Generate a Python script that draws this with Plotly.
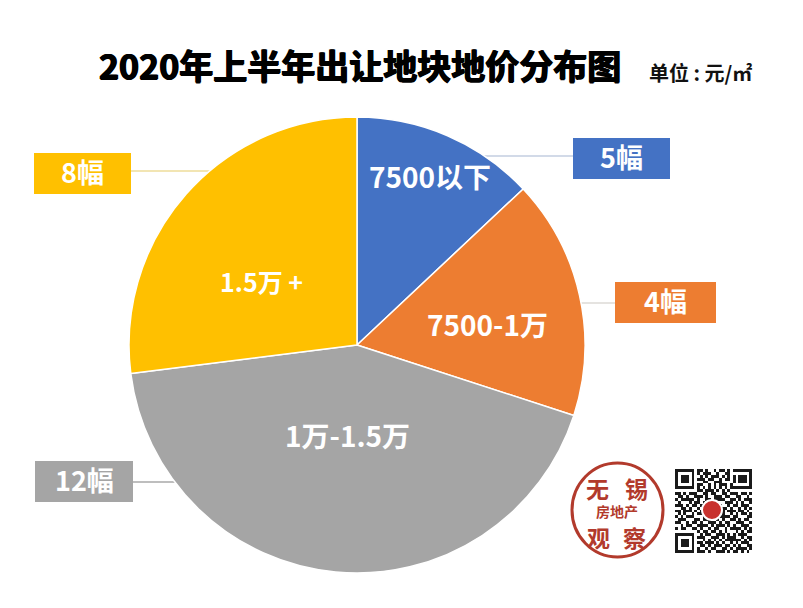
import plotly.graph_objects as go

W, H = 803, 608
FONT = "Noto Sans CJK SC"

# shares measured from the slice angles in the picture
ranges = ["7500以下", "7500-1万", "1万-1.5万", "1.5万+"]
shares = [13, 17, 43, 27]
counts = ["5幅", "4幅", "12幅", "8幅"]
colors = ["#4472C4", "#ED7D31", "#A5A5A5", "#FFC000"]
line_colors = ["#C3CEE0", "#DDDAD6", "#A9A9A9", "#EEDC9A"]

qr_rows = [
    "1111111011010010110101111111",
    "1000001010111001001100000001",
    "1011101001010111010101011101",
    "1011101011101100101101011101",
    "1011101000110011100001011101",
    "1000001011001010111010000001",
    "1111111010101010101011111111",
    "0000000011011101010100000000",
    "1101011100110110011011101101",
    "0110100111010011101100110010",
    "1011111010011011110011010111",
    "0100010110101110001110101001",
    "1110101101100001100101101110",
    "0011010010100000011010010101",
    "1101110101100000010111011010",
    "0101001011100000010010101101",
    "1010111000100000111101100011",
    "0111000110111001010011010110",
    "1100101101001110101100111001",
    "0010110011110101110101001110",
    "1011001101001011001011110101",
    "0000000010110110101000101011",
    "1111111001011001110101011100",
    "1000001011100111010111001011",
    "1011101000101010101111110101",
    "1011101011011101010010101110",
    "1011101001101011101101010011",
    "1000001010010110011010111101",
    "1111111011101001110101101010",
]
qr_z = [[1 - int(c) for c in row] for row in qr_rows]


def px(x):
    return x / W


def py(y):
    return 1 - y / H


fig = go.Figure()
fig.add_trace(go.Pie(
    values=shares, labels=ranges, sort=False, direction="clockwise", rotation=0,
    marker=dict(colors=colors, line=dict(color="white", width=1.5)),
    textinfo="none", hoverinfo="label", showlegend=False,
    domain=dict(x=[px(129), px(585)], y=[py(573), py(117)]),
))
fig.add_trace(go.Heatmap(
    z=qr_z, colorscale=[[0, "#1a1a1a"], [1, "#ffffff"]], showscale=False, hoverinfo="skip",
    xaxis="x", yaxis="y",
))

shapes = []
annotations = []


def text(x, y, s, size, color="white", shadow=None):
    font = dict(family=FONT, size=size, color=color)
    if shadow:
        font["shadow"] = shadow
    annotations.append(dict(
        x=px(x), y=py(y), xref="paper", yref="paper", text=f"<b>{s}</b>",
        showarrow=False, xanchor="center", yanchor="middle", font=font,
    ))


# count boxes and their leader lines
boxes = [(573, 138, 670, 179), (615, 282, 716, 323), (35, 461, 133, 502), (34, 153, 131, 194)]
leaders = [(480, 156, 573, 156), (570, 303, 615, 303), (133, 482, 185, 482), (131, 171, 210, 171)]
for i, (x0, y0, x1, y1) in enumerate(leaders):
    shapes.append(dict(type="line", xref="paper", yref="paper", x0=px(x0), y0=py(y0), x1=px(x1), y1=py(y1),
                       line=dict(color=line_colors[i], width=1.5), layer="below"))
for i, (x0, y0, x1, y1) in enumerate(boxes):
    shapes.append(dict(type="rect", xref="paper", yref="paper", x0=px(x0), y0=py(y0), x1=px(x1), y1=py(y1),
                       fillcolor=colors[i], line=dict(width=0)))
    text((x0 + x1) / 2, (y0 + y1) / 2 - 2, counts[i], 27)

# slice labels
text(430, 176, ranges[0], 28)
text(487, 324, ranges[1], 28)
text(347, 435, ranges[2], 28)
text(261, 281, "1.5万 +", 25)

# title
text(360, 64, "2020年上半年出让地块地价分布图", 34, color="black",
     shadow="0.7px 0 0 black, -0.7px 0 0 black, 0 0.7px 0 black")
text(700, 72, "单位 : 元/㎡", 20, color="#111111")

# stamp
RED = "#B23A2C"
shapes.append(dict(type="circle", xref="paper", yref="paper", x0=px(572), y0=py(557), x1=px(663), y1=py(463),
                   line=dict(color=RED, width=3)))
text(597, 488, "无", 23, color=RED)
text(636, 488, "锡", 23, color=RED)
text(617, 511, "房地产", 14, color=RED)
text(598, 537, "观", 23, color=RED)
text(634, 537, "察", 23, color=RED)

# seal in the middle of the QR code
shapes.append(dict(type="circle", xref="paper", yref="paper", x0=px(702), y0=py(520), x1=px(722), y1=py(500),
                   fillcolor="#C8322E", line=dict(color="white", width=2)))

fig.update_layout(
    width=W, height=H, margin=dict(l=0, r=0, t=0, b=0), paper_bgcolor="white", plot_bgcolor="white",
    xaxis=dict(domain=[px(675), px(752)], visible=False),
    yaxis=dict(domain=[py(553), py(469)], visible=False, autorange="reversed"),
    shapes=shapes, annotations=annotations,
)
fig.write_html("out.html", config=dict(displayModeBar=False),
               post_script="document.body.style.margin='0';")
